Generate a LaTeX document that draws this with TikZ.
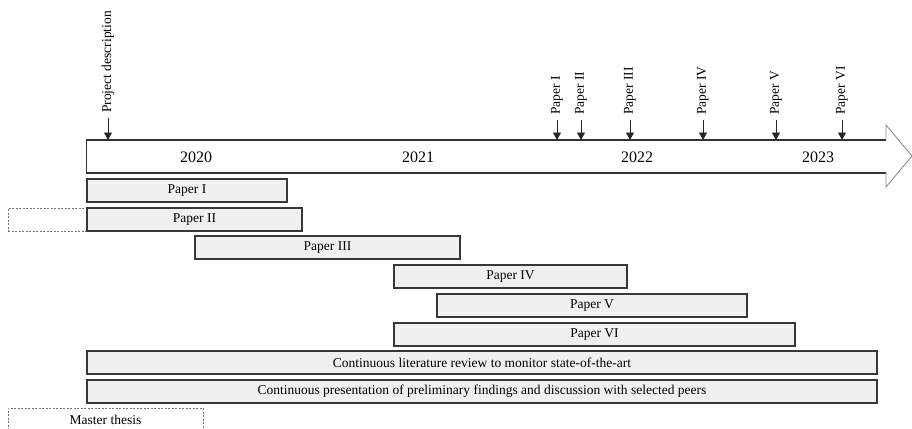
\documentclass[tikz,border=0pt]{standalone}
\usepackage{fontspec}
\setmainfont{Liberation Serif}
\usetikzlibrary{arrows.meta}
\begin{document}
\begin{tikzpicture}[x=1pt,y=-1pt,
  bartext/.style={font=\fontsize{13.5}{13.5}\selectfont},
  taskbar/.style={bartext, draw=black!78, line width=1.2pt, fill=black!6,
    inner sep=0pt, minimum height=23pt, anchor=center},
  ghostbar/.style={bartext, draw=black!55, line width=0.7pt,
    dash pattern=on 2pt off 1.5pt, inner sep=0pt, minimum height=23pt, anchor=center},
  yearlabel/.style={font=\fontsize{16}{16}\selectfont, inner sep=0pt},
  milestone/.style={font=\fontsize{13.5}{13.5}\selectfont, rotate=90, anchor=west,
    inner xsep=5pt, inner ysep=0pt},
  pointer/.style={black!85, line width=0.9pt, -{Triangle[length=7.5pt,width=8pt]}}
]
\useasboundingbox (0,0) rectangle (912,428);
\clip (0,0) rectangle (912,428);

% timeline arrow
\draw[black!80, line width=1.2pt] (886,140) -- (86.5,140) -- (86.5,173) -- (886,173);
\draw[black!45, line width=0.9pt] (886,140) -- (886,125) -- (912,156) -- (886,187) -- (886,173);

% years
\node[yearlabel] (y2020) at (196,157) {2020};
\node[yearlabel] (y2021) at (418,157) {2021};
\node[yearlabel] (y2022) at (637,157) {2022};
\node[yearlabel] (y2023) at (818,157) {2023};

% milestones on the timeline
\coordinate (tpd) at (108,140);
\coordinate (t1) at (557,140);
\coordinate (t2) at (581,140);
\coordinate (t3) at (630,140);
\coordinate (t4) at (703,140);
\coordinate (t5) at (776,140);
\coordinate (t6) at (842,140);
\node[milestone] (mpd) at (108,118) {Project description};
\node[milestone] (m1) at (557,120) {Paper I};
\node[milestone] (m2) at (581,120) {Paper II};
\node[milestone] (m3) at (630,120) {Paper III};
\node[milestone] (m4) at (703,120) {Paper IV};
\node[milestone] (m5) at (776,120) {Paper V};
\node[milestone] (m6) at (842,120) {Paper VI};
\draw[pointer] (mpd.west) -- (tpd);
\draw[pointer] (m1.west) -- (t1);
\draw[pointer] (m2.west) -- (t2);
\draw[pointer] (m3.west) -- (t3);
\draw[pointer] (m4.west) -- (t4);
\draw[pointer] (m5.west) -- (t5);
\draw[pointer] (m6.west) -- (t6);

% work packages
\node[ghostbar, minimum width=79pt] (pre2) at (47.5,219.5) {};
\node[taskbar, minimum width=200pt] (p1) at (187,190.5) {Paper I};
\node[taskbar, minimum width=215pt] (p2) at (194.5,219.5) {Paper II};
\node[taskbar, minimum width=265pt] (p3) at (327.5,247.5) {Paper III};
\node[taskbar, minimum width=233pt] (p4) at (510.5,276.5) {Paper IV};
\node[taskbar, minimum width=310pt] (p5) at (592,305.5) {Paper V};
\node[taskbar, minimum width=401pt] (p6) at (594.5,334.5) {Paper VI};
\node[taskbar, minimum width=790pt] (lit) at (482,362.5) {Continuous literature review to monitor state-of-the-art};
\node[taskbar, minimum width=790pt] (pres) at (482,391.5) {Continuous presentation of preliminary findings and discussion with selected peers};
\node[ghostbar, minimum width=195pt, minimum height=24pt] (mt) at (105.5,420) {Master thesis};
\end{tikzpicture}
\end{document}
